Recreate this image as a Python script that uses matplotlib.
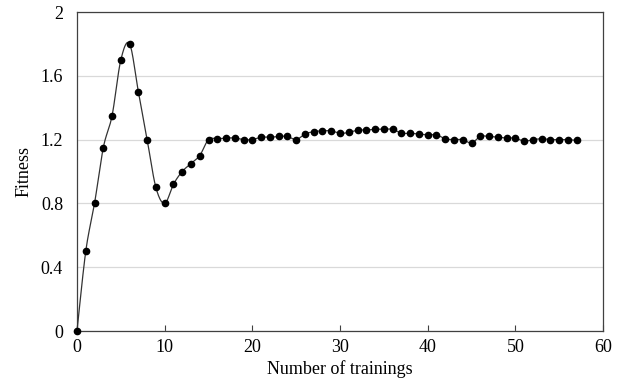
import numpy as np
import matplotlib
matplotlib.use("Agg")
import matplotlib.pyplot as plt

# fitness per training round
trainings = list(range(58))
fitness = [0.0, 0.5, 0.8, 1.15, 1.35, 1.7, 1.8, 1.5, 1.2, 0.9,
           0.8, 0.92, 1.0, 1.05, 1.1, 1.2, 1.205, 1.21, 1.21, 1.2,
           1.2, 1.215, 1.215, 1.22, 1.22, 1.2, 1.235, 1.25, 1.255, 1.255,
           1.24, 1.245, 1.26, 1.26, 1.265, 1.265, 1.265, 1.24, 1.24, 1.235,
           1.23, 1.23, 1.205, 1.2, 1.2, 1.178, 1.22, 1.22, 1.215, 1.21,
           1.21, 1.19, 1.2, 1.205, 1.2, 1.2, 1.2, 1.195]

x_ticks = [0, 10, 20, 30, 40, 50, 60]
y_ticks = [0, 0.4, 0.8, 1.2, 1.6, 2.0]
y_labels = ["0", "0.4", "0.8", "1.2", "1.6", "2"]


def smooth_line(xs, ys, n=20):
    # Catmull-Rom curve through the points, like a spreadsheet "smoothed line"
    xs = np.asarray(xs, float)
    ys = np.asarray(ys, float)
    px = np.concatenate([[xs[0]], xs, [xs[-1]]])
    py = np.concatenate([[ys[0]], ys, [ys[-1]]])
    out_x, out_y = [], []
    t = np.linspace(0, 1, n, endpoint=False)
    for i in range(1, len(px) - 2):
        for arr, out in ((px, out_x), (py, out_y)):
            p0, p1, p2, p3 = arr[i - 1], arr[i], arr[i + 1], arr[i + 2]
            out.extend(0.5 * (2 * p1 + (-p0 + p2) * t
                              + (2 * p0 - 5 * p1 + 4 * p2 - p3) * t ** 2
                              + (-p0 + 3 * p1 - 3 * p2 + p3) * t ** 3))
    out_x.append(xs[-1])
    out_y.append(ys[-1])
    return out_x, out_y


plt.rcParams['font.family'] = ['Liberation Serif', 'DejaVu Serif']
plt.rcParams['font.size'] = 13

fig = plt.figure(figsize=(6.39, 3.82), dpi=100)
ax = fig.add_axes([0.1205, 0.1335, 0.8232, 0.835])

sx, sy = smooth_line(trainings, fitness)
ax.plot(sx, sy, color='#333333', linewidth=0.9, zorder=3, clip_on=False)
ax.plot(trainings, fitness, 'o', color='black', markersize=4.5, zorder=4, clip_on=False)

ax.set_xlim(0, 60)
ax.set_ylim(0, 2)
ax.set_xticks(x_ticks)
ax.set_yticks(y_ticks)
ax.set_yticklabels(y_labels)
ax.tick_params(axis='x', direction='in', length=4, width=0.8, color='#404040', pad=6)
ax.tick_params(axis='y', length=0, pad=10)
ax.grid(axis='y', color='#d9d9d9', linewidth=0.9)
ax.set_axisbelow(True)
for side in ax.spines.values():
    side.set_color('#404040')
    side.set_linewidth(0.9)

ax.set_xlabel('Number of trainings', labelpad=3)
ax.set_ylabel('Fitness', labelpad=6)

fig.savefig('out.png', dpi=100)
